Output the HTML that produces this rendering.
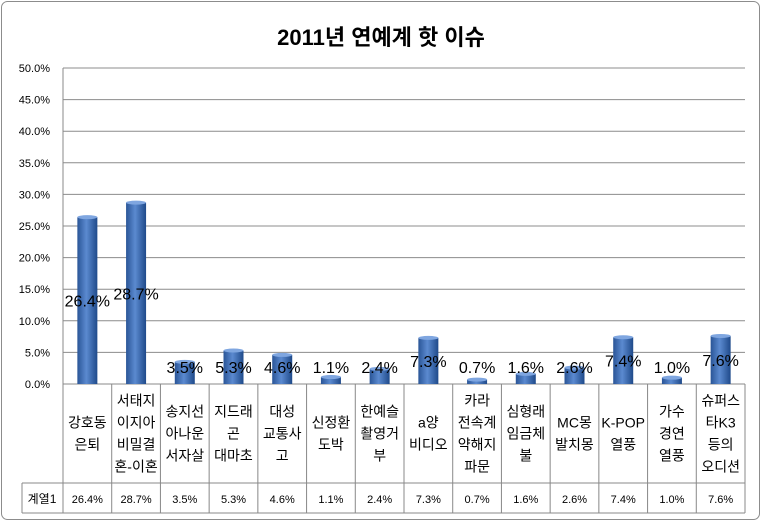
<!DOCTYPE html>
<html><head><meta charset="utf-8">
<style>
body{margin:0;background:#fff;}
svg text{font-family:"Liberation Sans","Noto Sans CJK KR",sans-serif;}
</style></head>
<body>
<svg id="chart" width="762" height="522" xmlns="http://www.w3.org/2000/svg">
<defs>
<linearGradient id="barg" x1="0" x2="1" y1="0" y2="0">
<stop offset="0" stop-color="#2a5597"/><stop offset="0.45" stop-color="#5b8ad0"/><stop offset="1" stop-color="#1f4a8a"/>
</linearGradient>
</defs>
<rect x="1.5" y="1.5" width="758" height="518" rx="6" fill="#fff" stroke="#8c8c8c"/>
<text x="381" y="45" text-anchor="middle" font-size="22" font-weight="bold">2011년 연예계 핫 이슈</text>
<g id="grid"></g><g id="bars"></g><g id="table"></g>
</svg>
<script>
const categories=[["강호동","은퇴"],["서태지","이지아","비밀결","혼-이혼"],["송지선","아나운","서자살"],["지드래","곤","대마초"],["대성","교통사","고"],["신정환","도박"],["한예슬","촬영거","부"],["a양","비디오"],["카라","전속계","약해지","파문"],["심형래","임금체","불"],["MC몽","발치몽"],["K-POP","열풍"],["가수","경연","열풍"],["슈퍼스","타K3","등의","오디션"]];
const values=[26.4,28.7,3.5,5.3,4.6,1.1,2.4,7.3,0.7,1.6,2.6,7.4,1.0,7.6];
const yTicks=[0,5,10,15,20,25,30,35,40,45,50];
const seriesName="계열1";
const NS="http://www.w3.org/2000/svg";
const x0=63,x1=745,y0=384,yTop=68,yMax=50;
const cw=(x1-x0)/categories.length;
const ys=v=>y0-(v/yMax)*(y0-yTop);
const xs=i=>x0+i*cw;
function mk(tag,attrs,parent,txt){const e=document.createElementNS(NS,tag);for(const k in attrs)e.setAttribute(k,attrs[k]);if(txt!==undefined)e.textContent=txt;parent.appendChild(e);return e;}
const grid=document.getElementById('grid'),bars=document.getElementById('bars'),tbl=document.getElementById('table');
yTicks.forEach(t=>{
 const l=mk('line',{x1:x0,x2:x1,y1:ys(t),y2:ys(t),stroke:t===0?'#888':'#8c8c8c','stroke-width':1},grid);
 
 
 const tx=mk('text',{x:50,y:ys(t)+4,'text-anchor':'end','font-size':11},grid,t.toFixed(1)+'%');
 
 
});
mk('line',{x1:x0,x2:x0,y1:yTop,y2:y0,stroke:'#888'},grid);
const bw=20;
values.forEach((v,i)=>{
 const cx=xs(i)+cw/2;
 const top=ys(v);
 const r=mk('rect',{x:cx-bw/2,y:top,width:bw,height:y0-top,fill:'url(#barg)'},bars);
 
 
 const e=mk('ellipse',{cx:cx,cy:top,rx:bw/2,ry:2,fill:'#7fa6e0'},bars);
 
 
 const ly=Math.min(ys(v/2)+6,373);
 const t=mk('text',{x:cx,y:ly,'text-anchor':'middle','font-size':16},bars,v.toFixed(1)+'%');
 
 
});
const tb=483,bb=513,lx=22;
mk('line',{x1:x1,x2:x1,y1:y0,y2:bb,stroke:'#888'},tbl);
for(let i=0;i<=categories.length;i++)mk('line',{x1:xs(i),x2:xs(i),y1:y0,y2:bb,stroke:'#888'},tbl);
mk('line',{x1:lx,x2:x1,y1:tb,y2:tb,stroke:'#888'},tbl);
mk('line',{x1:lx,x2:x1,y1:bb,y2:bb,stroke:'#888'},tbl);
mk('line',{x1:lx,x2:lx,y1:tb,y2:bb,stroke:'#888'},tbl);
const sn=mk('text',{x:lx+20,y:tb+20,'text-anchor':'middle','font-size':12},tbl,seriesName);


categories.forEach((lines,i)=>{
 const cx=xs(i)+cw/2;
 const lh=22,startY=(y0+tb)/2-(lines.length-1)*lh/2+5;
 const t=mk('text',{x:cx,'text-anchor':'middle','font-size':14},tbl);
 
 
 lines.forEach((s,j)=>mk('tspan',{x:cx,y:startY+j*lh},t,s));
 const v=mk('text',{x:cx,y:tb+20,'text-anchor':'middle','font-size':11},tbl,values[i].toFixed(1)+'%');
 
 
});
</script>
</body></html>
